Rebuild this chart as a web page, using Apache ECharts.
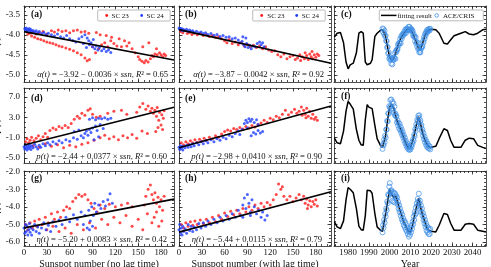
<!DOCTYPE html>
<html><head><meta charset="utf-8">
<script src="https://cdn.jsdelivr.net/npm/echarts@6/dist/echarts.min.js"></script>
<style>html,body{margin:0;padding:0;background:#fff}#c{width:491px;height:267px}</style>
</head><body><div id="c"></div>
<script>
// ---------------- DATA ----------------
const ssnTicks = [0,30,60,90,120,150,180];
const yearTicks = [1980,1990,2000,2010,2020,2030,2040];
const alphaTicks = [-5.0,-4.5,-4.0,-3.5];
const pTicks = [-5.0,-1.0,3.0,7.0];
const etaTicks = [-6.0,-5.0,-4.0,-3.0,-2.0];

// (a) alpha vs ssn (no lag)
const a23 = [[8,-3.96],[12,-3.93],[16,-3.98],[20,-3.95],[25,-3.92],[30,-3.98],[36,-3.9],[40,-3.93],[45,-3.88],[50,-3.92],[55,-3.9],[60,-3.95],[65,-3.9],[70,-3.88],[75,-3.93],[80,-3.92],[85,-3.96],[95,-3.94],[100,-4.0],[108,-4.02],[115,-4.06],[125,-4.1],[132,-4.15],[138,-4.2],
[5,-3.98],[10,-4.03],[14,-4.06],[18,-4.1],[22,-4.12],[26,-4.15],[30,-4.18],[34,-4.2],[38,-4.22],[42,-4.25],[46,-4.28],[50,-4.3],[55,-4.33],[60,-4.36],[65,-4.4],[70,-4.45],[75,-4.5],[80,-4.58],[83,-4.65],[86,-4.62],
[90,-4.3],[94,-4.45],[98,-4.35],[102,-4.25],[106,-4.2],[110,-4.3],[114,-4.15],[118,-4.22],[122,-4.28],[128,-4.3],[135,-4.28],[142,-4.35],
[146,-4.45],[150,-4.55],[152,-4.62],[155,-4.66],[158,-4.7],[160,-4.64],[163,-4.68],[166,-4.6],[168,-4.52],[170,-4.55],[172,-4.48],[175,-4.5],[178,-4.45],[180,-4.5],[182,-4.55],[184,-4.48],[186,-4.52],[164,-4.2],[156,-4.3],[174,-4.35]];
const a24 = [[1,-3.85],[2,-3.88],[3,-3.83],[4,-3.9],[5,-3.86],[6,-3.88],[7,-3.84],[8,-3.9],[9,-3.87],[10,-3.92],[12,-3.89],[14,-3.93],[16,-3.9],[18,-3.95],[20,-3.92],[23,-3.97],[26,-3.94],[29,-3.99],[32,-3.96],[36,-4.0],[40,-4.03],[44,-3.98],[48,-4.05],[52,-4.08],[56,-4.02],[60,-4.1],[64,-4.14],[68,-4.18],[72,-4.1],[76,-4.05],[80,-4.0],[83,-4.08],[85,-4.15],[86,-4.25],[88,-4.2],[90,-4.3],[91,-4.12],[93,-4.35],[95,-4.28],[97,-4.38],[99,-4.32],[102,-4.4],[105,-4.35],[108,-4.42],[111,-4.38],[114,-4.44],[78,-4.22],[82,-4.32]];
const fitLineA = [[0,-3.92],[197,-4.63]];

// (b) alpha vs ssn (with lag)
const b23 = [[2,-3.92],[5,-3.95],[8,-3.9],[11,-3.97],[14,-3.94],[17,-3.99],[20,-3.96],[24,-4.0],[28,-3.97],[32,-4.02],[36,-4.0],[40,-4.04],[44,-4.02],[48,-4.06],[52,-4.05],[56,-4.1],[60,-4.15],[63,-4.2],[66,-4.12],[70,-4.22],[74,-4.18],[78,-4.25],[82,-4.2],[86,-4.28],[90,-4.24],[94,-4.3],[98,-4.26],[102,-4.32],[106,-4.28],[110,-4.35],[114,-4.3],[118,-4.38],[122,-4.42],[126,-4.4],[130,-4.5],[134,-4.55],[138,-4.48],[142,-4.6],[146,-4.55],[150,-4.52],[153,-4.62],[156,-4.58],[159,-4.5],[162,-4.55],[165,-4.6],[168,-4.52],[170,-4.62],[172,-4.48],[174,-4.55],[176,-4.6],[178,-4.5],[180,-4.56],[182,-4.48],[184,-4.52],[160,-4.64],[166,-4.45],[175,-4.42]];
const b24 = [[0,-3.83],[1,-3.86],[2,-3.84],[3,-3.88],[4,-3.85],[5,-3.9],[6,-3.87],[8,-3.89],[10,-3.86],[12,-3.91],[14,-3.88],[16,-3.92],[18,-3.9],[20,-3.94],[23,-3.91],[26,-3.95],[29,-3.93],[32,-3.97],[35,-3.95],[38,-3.99],[42,-3.97],[46,-4.01],[50,-3.99],[54,-4.04],[58,-4.02],[62,-4.06],[66,-4.05],[70,-4.1],[74,-4.08],[78,-4.13],[80,-4.2],[83,-4.16],[85,-4.25],[87,-4.3],[89,-4.22],[91,-4.32],[93,-4.26],[95,-4.35],[97,-4.28],[100,-4.3],[103,-4.22],[106,-4.18],[108,-4.25],[110,-4.2],[112,-4.3],[84,-4.05],[88,-4.08]];
const fitLineB = [[0,-3.87],[200,-4.71]];

// (d) p vs ssn (no lag)
const d23 = [[2,-1.8],[4,-1.2],[6,-2.0],[8,-1.5],[10,-0.9],[13,-1.6],[16,-1.1],[19,-0.6],[22,-1.4],[25,-0.8],[28,-0.2],[31,-0.9],
[34,0.4],[38,0.9],[42,0.6],[46,1.2],[50,0.9],[54,1.4],[58,1.0],[62,1.8],[66,2.6],[70,3.2],[73,2.8],[76,3.8],[80,3.4],[84,4.4],[87,4.7],[90,3.6],[95,3.0],[100,3.2],[110,3.8],[118,4.2],[128,4.4],[135,3.6],
[148,4.0],[152,5.0],[156,5.7],[160,4.6],[163,5.2],[166,4.2],[168,4.8],[170,3.8],[172,4.4],[174,3.2],[175,4.9],[177,2.4],[178,4.0],[180,1.5],[181,3.5],[182,0.6],[183,2.8],[176,1.0],[173,0.2],[184,4.3],
[12,-2.6],[20,-2.9],[28,-2.2],[36,-2.7],[44,-2.4],[52,-3.0],[60,-2.5],[68,-2.8],[76,-2.3],[84,-2.0],[92,-1.5],[100,-1.0],[106,-0.5],[112,-1.2],[118,-0.8],[124,-1.4],[130,-0.6],[136,-1.0],[142,-0.4],[148,-1.1],[155,0.3],[162,-0.2]];
const d24 = [[0,-2.8],[1,-3.2],[2,-2.5],[3,-3.0],[4,-3.4],[5,-2.7],[6,-3.1],[7,-2.4],[8,-2.9],[9,-3.3],[10,-2.6],[12,-3.0],[14,-2.3],[16,-2.8],[18,-3.2],[20,-2.5],[22,-2.9],[25,-2.2],[28,-2.6],[31,-2.0],[34,-2.4],[38,-1.8],[42,-2.2],[46,-1.6],[50,-2.0],[55,-1.4],[60,-1.7],[65,-1.0],[70,-1.3],[75,-0.6],[78,-1.0],[80,-0.2],[82,0.3],[84,-0.5],[86,0.6],[88,0.0],[90,0.9],[92,-1.4],[94,1.3],[96,0.4],[98,-0.8],[100,1.6],[104,0.8],[86,2.6],[90,2.9],[94,2.5],[98,2.8],[102,2.7],[106,2.9],[110,2.6],[114,2.8],[72,0.5],[66,0.2]];
const fitLineD = [[0,-2.44],[197,4.99]];

// (e) p vs ssn (with lag)
const e23 = [[3,-2.0],[6,-2.4],[9,-1.8],[12,-2.2],[15,-1.6],[18,-2.0],[21,-1.4],[24,-1.9],[27,-1.3],[30,-1.7],[33,-1.1],[36,-1.5],[40,-0.9],[44,-1.2],[48,-0.6],[52,-0.9],[56,-0.3],[60,0.2],[64,0.5],[68,0.3],[72,0.8],[76,0.6],[80,1.0],[84,0.7],[88,1.2],[92,0.9],[96,1.4],[100,1.1],[104,1.6],[108,1.9],[112,2.4],[116,2.0],[120,2.8],[124,2.5],[128,3.2],[132,2.9],[136,3.6],[140,4.4],[144,3.5],[148,4.0],[152,4.6],[155,3.8],[158,4.2],[161,5.0],[164,4.4],[166,3.6],[168,4.8],[170,3.2],[172,4.2],[174,2.8],[176,3.6],[178,2.6],[180,3.0],[182,2.4],[167,2.9],[162,3.4]];
const e24 = [[0,-2.9],[1,-3.3],[2,-2.6],[3,-3.1],[4,-2.8],[5,-3.4],[6,-2.7],[8,-3.0],[10,-2.5],[12,-2.9],[14,-2.4],[16,-2.8],[18,-2.2],[20,-2.6],[23,-2.0],[26,-2.4],[29,-1.8],[32,-2.2],[35,-1.6],[38,-2.0],[42,-1.4],[46,-1.8],[50,-1.2],[54,-1.5],[58,-0.9],[62,-1.2],[66,-0.5],[70,-0.8],[74,-0.2],[78,0.3],[80,-0.4],[83,0.6],[86,1.8],[88,2.4],[90,2.0],[92,2.7],[94,2.2],[96,2.6],[99,2.0],[102,2.5],[104,1.6],[95,-0.6],[98,0.0],[101,-0.3],[104,0.4],[107,-0.1],[110,0.2],[90,0.9]];
const fitLineE = [[0,-2.98],[200,5.22]];

// (g) eta vs ssn (no lag)
const g23 = [[2,-5.0],[5,-5.3],[8,-4.9],[11,-5.2],[14,-4.8],[17,-5.1],[20,-4.7],[24,-5.0],[28,-4.6],[32,-4.9],[36,-4.4],[40,-4.7],[44,-4.3],[48,-4.6],[52,-4.2],[56,-4.0],[60,-4.1],[64,-3.7],[68,-3.5],[72,-3.3],[76,-3.4],[80,-3.3],[84,-3.6],[88,-3.8],[92,-4.1],[96,-4.3],[100,-3.9],[106,-4.1],[112,-3.85],[120,-4.0],[128,-3.9],[136,-3.8],[142,-4.0],
[30,-5.3],[38,-5.1],[46,-5.4],[54,-5.2],[62,-5.5],[70,-5.0],[78,-5.3],[86,-4.9],[94,-5.2],[102,-4.7],[110,-5.0],[118,-4.6],[126,-4.9],[134,-4.5],[142,-5.1],[150,-4.7],[156,-5.3],[162,-4.4],[168,-4.9],[174,-4.3],
[160,-3.4],[163,-3.0],[166,-2.75],[168,-3.3],[170,-3.6],[172,-3.2],[174,-3.8],[176,-3.45],[178,-4.0],[180,-3.6],[182,-4.2],[184,-3.4],[171,-4.6],[177,-5.1],[181,-4.8],[158,-3.9]];
const g24 = [[0,-5.2],[1,-5.5],[2,-5.0],[3,-5.4],[4,-5.1],[5,-5.6],[6,-5.3],[7,-4.95],[8,-5.45],[9,-5.2],[10,-5.6],[12,-5.3],[14,-5.0],[16,-5.4],[18,-5.15],[20,-5.5],[23,-5.2],[26,-4.9],[29,-5.3],[32,-5.05],[35,-5.4],[38,-4.85],[42,-5.1],[46,-4.75],[50,-5.0],[55,-4.6],[60,-4.85],[65,-4.45],[70,-4.7],[75,-4.3],[78,-5.0],[80,-4.5],[83,-5.2],[85,-4.2],[87,-4.8],[89,-4.0],[91,-4.5],[93,-3.8],[95,-4.3],[98,-3.9],[101,-4.1],[104,-3.7],[107,-3.95],[110,-3.6],[113,-3.25],[116,-3.8],[86,-5.3],[90,-5.1]];
const fitLineG = [[0,-5.20],[197,-3.56]];

// (h) eta vs ssn (with lag)
const h23 = [[3,-5.0],[6,-5.2],[9,-4.9],[12,-5.1],[15,-4.85],[18,-5.05],[21,-4.8],[24,-5.0],[28,-4.75],[32,-4.95],[36,-4.7],[40,-4.9],[44,-4.6],[48,-4.85],[52,-4.5],[56,-4.7],[60,-4.35],[64,-4.55],[68,-4.25],[72,-4.45],[76,-4.2],[80,-4.4],[84,-4.1],[88,-4.3],[92,-4.0],[96,-4.2],[100,-3.9],[104,-4.1],[108,-3.8],[112,-4.0],[116,-3.75],[120,-3.9],[124,-3.6],[128,-3.3],[131,-2.7],[134,-3.0],[136,-2.85],[138,-3.4],[142,-3.6],[146,-3.4],[150,-3.7],[154,-3.5],[158,-3.3],[161,-3.6],[164,-3.4],[166,-3.8],[168,-3.55],[170,-3.9],[172,-3.65],[174,-4.0],[176,-3.7],[178,-3.85],[180,-3.6],[182,-3.95],[169,-4.1]];
const h24 = [[0,-5.3],[1,-5.0],[2,-5.5],[3,-5.2],[4,-5.6],[5,-5.1],[6,-5.4],[8,-5.25],[10,-5.5],[12,-5.0],[14,-5.35],[16,-5.1],[18,-5.4],[20,-5.15],[23,-5.3],[26,-4.95],[29,-5.2],[32,-4.9],[35,-5.1],[38,-4.8],[42,-5.0],[46,-4.7],[50,-4.9],[54,-4.6],[58,-4.8],[62,-4.5],[66,-4.7],[70,-4.4],[74,-4.6],[78,-4.2],[81,-4.5],[84,-3.9],[86,-3.5],[88,-4.1],[90,-3.3],[92,-3.8],[94,-4.3],[96,-3.6],[99,-4.0],[102,-4.4],[105,-4.2],[108,-4.6],[110,-4.3],[113,-4.75],[116,-4.5],[84,-4.6],[94,-4.5]];
const fitLineH = [[0,-5.44],[200,-3.14]];

// time series (c), (f), (i)
const aceYears = [1996.6,1996.85,1997.1,1997.35,1997.6,1997.85,1998.1,1998.35,1998.6,1998.85,
1999.1,1999.35,1999.6,1999.85,2000.1,2000.35,2000.6,2000.85,2001.1,2001.35,
2001.6,2001.85,2002.1,2002.35,2002.6,2002.85,2003.1,2003.35,2003.6,2003.85,
2004.1,2004.35,2004.6,2004.85,2005.1,2005.35,2005.6,2005.85,2006.1,2006.35,
2006.6,2006.85,2007.1,2007.35,2007.6,2007.85,2008.1,2008.35,2008.6,2008.85,
2009.1,2009.35,2009.6,2009.85,2010.1,2010.35,2010.6,2010.85,2011.1,2011.35,
2011.6,2011.85,2012.1,2012.35,2012.6,2012.85,2013.1,2013.35,2013.6,2013.85,
2014.1,2014.35,2014.6,2014.85,2015.1,2015.35,2015.6,2015.85,2016.1,2016.35,
2016.6,2016.85,2017.1,2017.35,2017.6,2017.85,2018.1,2018.35,2018.6,2018.85,
2019.1,2019.35,2019.6];
const aceAlpha = [-3.84,-3.93,-3.86,-3.98,-3.90,-4.04,-4.02,-4.15,-4.16,-4.32,
-4.30,-4.47,-4.44,-4.60,-4.55,-4.63,-4.60,-4.72,-4.58,-4.74,
-4.60,-4.63,-4.57,-4.60,-4.45,-4.60,-4.40,-4.43,-4.36,-4.36,
-4.24,-4.27,-4.20,-4.21,-4.10,-4.21,-4.04,-4.10,-4.00,-4.03,
-3.97,-3.99,-3.92,-3.96,-3.87,-3.96,-3.85,-3.89,-3.86,-3.87,
-3.80,-3.89,-3.80,-3.87,-3.84,-3.88,-3.86,-3.92,-3.90,-4.02,
-3.98,-4.05,-4.04,-4.16,-4.06,-4.22,-4.18,-4.30,-4.20,-4.36,
-4.32,-4.44,-4.40,-4.44,-4.32,-4.34,-4.29,-4.29,-4.16,-4.19,
-4.06,-4.10,-3.98,-4.02,-3.93,-3.96,-3.88,-3.92,-3.87,-3.90,
-3.85,-3.89,-3.85];
const aceP = [-3.2,-2.3,-2.5,-1.4,-1.9,-0.6,-1.0,0.6,0.6,2.3,
2.2,3.8,3.7,5.2,4.9,6.4,5.2,6.5,4.8,6.0,
4.5,5.7,3.9,5.1,3.4,3.7,3.2,3.2,2.0,2.4,
1.4,1.9,0.8,1.7,0.5,1.1,0.0,0.6,-0.5,0.1,
-1.0,-0.5,-1.6,-1.0,-2.1,-1.6,-2.6,-2.1,-3.0,-2.6,
-3.3,-2.9,-3.4,-3.0,-3.3,-2.5,-2.8,-1.9,-2.2,-1.3,
-1.6,-0.4,-0.7,0.7,0.3,1.6,1.2,2.5,2.2,3.3,
2.9,3.4,2.1,2.4,1.2,1.5,0.3,0.6,-0.6,-0.1,
-1.3,-0.8,-1.9,-1.4,-2.4,-1.8,-2.8,-2.2,-3.0,-2.6,
-3.1,-2.7,-3.3];
const aceEta = [-5.45,-5.05,-5.20,-4.75,-4.90,-4.40,-4.55,-4.10,-4.20,-3.70,
-3.80,-3.30,-3.35,-2.85,-2.65,-3.20,-3.10,-3.05,-3.25,-3.65,
-3.15,-3.70,-3.20,-3.75,-3.25,-3.45,-3.35,-3.60,-3.45,-3.85,
-3.70,-4.10,-3.90,-4.30,-4.10,-4.50,-4.30,-4.70,-4.45,-4.85,
-4.65,-5.05,-4.80,-5.15,-4.90,-5.30,-5.05,-5.40,-5.20,-5.55,
-5.35,-5.70,-5.40,-5.60,-5.20,-5.45,-5.05,-5.25,-4.85,-5.00,
-4.55,-4.75,-4.30,-4.45,-4.05,-4.35,-3.80,-3.95,-3.55,-3.70,
-3.25,-3.80,-3.65,-4.10,-3.90,-4.30,-4.10,-4.50,-4.35,-4.75,
-4.55,-4.95,-4.75,-5.15,-4.95,-5.35,-5.10,-5.45,-5.20,-5.55,
-5.30,-5.55,-5.25];

const fitYears = [1973.4,1974.7,1976.3,1977.8,1979.0,1980.0,1981.0,1982.5,1984.0,1985.2,
1986.3,1987.3,1988.3,1989.2,1990.0,1990.8,1991.6,1992.9,1994.0,1995.6,
1996.6,1998.0,1999.0,2000.0,2001.0,2002.0,2003.0,2004.0,2005.0,2006.0,
2007.0,2008.0,2009.0,2010.0,2011.0,2012.0,2013.0,2014.0,2015.0,2016.0,
2017.0,2018.0,2019.0,2020.0,2022.3,2023.9,2026.2,2027.9,2029.5,2031.1,
2034.4,2036.5,2038.4,2040.5,2042.5,2044.9,2046.5];
const fitAlpha = [-4.06,-3.96,-3.94,-4.20,-4.68,-4.85,-4.75,-4.71,-4.45,-3.96,
-3.92,-3.96,-4.68,-4.75,-4.72,-4.71,-4.62,-4.04,-3.96,-3.89,
-3.87,-4.02,-4.30,-4.56,-4.65,-4.60,-4.45,-4.28,-4.14,-4.03,
-3.95,-3.89,-3.85,-3.86,-3.93,-4.07,-4.20,-4.35,-4.36,-4.20,
-4.03,-3.92,-3.88,-3.86,-3.875,-3.96,-4.21,-4.23,-4.125,-4.025,
-3.96,-3.92,-3.98,-4.00,-3.96,-3.875,-3.86];
const fitP = [-1.1,-2.0,-2.2,0.3,4.2,6.1,5.6,4.6,0.6,-1.5,
-2.4,-2.5,2.5,5.5,5.0,5.2,4.7,1.4,-1.2,-2.5,
-2.9,-0.8,2.3,5.0,5.6,4.8,3.2,1.9,0.9,-0.1,
-1.2,-2.2,-3.0,-3.0,-1.9,-0.2,1.6,3.1,1.6,-0.2,
-1.4,-2.3,-2.8,-2.9,-2.7,-1.2,0.75,0.4,-1.55,-2.9,
-2.9,-1.5,-1.1,-1.2,-2.5,-2.9,-3.1];
const fitEta = [-4.86,-5.14,-5.24,-4.8,-3.6,-2.9,-3.0,-3.2,-4.1,-5.1,
-5.3,-5.33,-4.5,-3.05,-3.14,-3.09,-3.24,-4.38,-5.14,-5.33,
-5.39,-4.45,-3.75,-3.0,-3.3,-3.45,-3.4,-3.8,-4.2,-4.55,
-4.9,-5.15,-5.4,-5.45,-5.1,-4.5,-4.0,-3.5,-4.05,-4.5,
-4.85,-5.2,-5.35,-5.39,-5.43,-5.05,-4.38,-4.44,-4.95,-5.33,
-5.33,-4.99,-4.95,-4.99,-5.33,-5.39,-5.43];

const panelLabels = ['(a)','(b)','(c)','(d)','(e)','(f)','(g)','(h)','(i)'];
const equations = [
 '{i|α(t)} = −3.92 − 0.0036 × {i|ssn}, {i|R}² = 0.65',
 '{i|α(t)} = −3.87 − 0.0042 × {i|ssn}, {i|R}² = 0.92',
 '{i|p(t)} = −2.44 + 0.0377 × {i|ssn}, {i|R}² = 0.60',
 '{i|p(t)} = −2.98 + 0.0410 × {i|ssn}, {i|R}² = 0.90',
 '{i|η(t)} = −5.20 + 0.0083 × {i|ssn}, {i|R}² = 0.42',
 '{i|η(t)} = −5.44 + 0.0115 × {i|ssn}, {i|R}² = 0.79'
];

// ---------------- LAYOUT ----------------
const FONT = "'Liberation Serif','DejaVu Serif',serif";
const TXT = '#111';
const RED = '#ff1a1a', BLUE = '#1f3dff', LBLUE = '#3d8ee6';
const cols = [{left:24,width:150},{left:179,width:152},{left:334,width:152}];
const rows = [{top:6,height:76},{top:88,height:75},{top:171,height:75}];
const xRange = [[0,197],[0,200],[1973.2,2046.5]];
const yRange = [[-5.18,-3.28],[-5.97,8.75],[-6.23,-1.96]];
function steps(a,b,s){const r=[];for(let v=a;v<=b+1e-9;v+=s)r.push(Math.round(v*1000)/1000);return r;}
const xMajor = [ssnTicks, ssnTicks, yearTicks];
const xMinor = [steps(0,195,7.5), steps(0,199,7.5), steps(1974,2046,2)];
const yMajor = [alphaTicks, pTicks, etaTicks];
const yMinor = [steps(-5.1,-3.3,0.1), steps(-5,8,1), steps(-6.2,-2.0,0.2)];
const xNames = ['Sunspot number (no lag time)','Sunspot number (with lag time)','Year'];
const yNames = ['α(t)','p(t)','η(t)'];

const grids=[], xAxes=[], yAxes=[], mainX=[], mainY=[];
const ls = {color:'#222',width:0.8};
function axisBase(gi,min,max){
  return {type:'value',gridIndex:gi,min,max,splitLine:{show:false},
    axisLine:{show:false,onZero:false},axisLabel:{show:false},axisTick:{show:false}};
}
for(let r=0;r<3;r++)for(let c=0;c<3;c++){
  const gi=r*3+c;
  grids.push({left:cols[c].left,top:rows[r].top,width:cols[c].width,height:rows[r].height,containLabel:false,outerBoundsMode:'none'});
  const [x0,x1]=xRange[c], [y0,y1]=yRange[r];
  mainX[gi]=xAxes.length;
  xAxes.push(Object.assign(axisBase(gi,x0,x1),{position:'bottom',
    axisLine:{show:true,onZero:false,lineStyle:ls},
    axisTick:{show:true,inside:true,length:3.5,lineStyle:ls,customValues:xMajor[c]},
    axisLabel:{show:r===2,customValues:xMajor[c],fontFamily:FONT,fontSize:8.8,color:TXT,margin:2.5,formatter:v=>String(Math.round(v))},
    name:r===2?xNames[c]:'',nameLocation:'middle',nameGap:13.2,nameTextStyle:{fontFamily:FONT,fontSize:10,color:TXT}}));
  xAxes.push(Object.assign(axisBase(gi,x0,x1),{position:'bottom',axisTick:{show:true,inside:true,length:2,lineStyle:ls,customValues:xMinor[c]}}));
  xAxes.push(Object.assign(axisBase(gi,x0,x1),{position:'top',axisLine:{show:true,onZero:false,lineStyle:ls},axisTick:{show:true,inside:true,length:3.5,lineStyle:ls,customValues:xMajor[c]}}));
  xAxes.push(Object.assign(axisBase(gi,x0,x1),{position:'top',axisTick:{show:true,inside:true,length:2,lineStyle:ls,customValues:xMinor[c]}}));
  mainY[gi]=yAxes.length;
  yAxes.push(Object.assign(axisBase(gi,y0,y1),{position:'left',
    axisLine:{show:true,onZero:false,lineStyle:ls},
    axisTick:{show:true,inside:true,length:3.5,lineStyle:ls,customValues:yMajor[r]},
    axisLabel:{show:c===0,customValues:yMajor[r],fontFamily:FONT,fontSize:9,color:TXT,margin:4,formatter:v=>v.toFixed(1)},
    name:c===0?yNames[r]:'',nameLocation:'middle',nameGap:15,nameRotate:90,nameTextStyle:{fontFamily:FONT,fontSize:10.5,fontStyle:'italic',color:TXT}}));
  yAxes.push(Object.assign(axisBase(gi,y0,y1),{position:'left',axisTick:{show:true,inside:true,length:2,lineStyle:ls,customValues:yMinor[r]}}));
  yAxes.push(Object.assign(axisBase(gi,y0,y1),{position:'right',axisLine:{show:true,onZero:false,lineStyle:ls},axisTick:{show:true,inside:true,length:3.5,lineStyle:ls,customValues:yMajor[r]}}));
  yAxes.push(Object.assign(axisBase(gi,y0,y1),{position:'right',axisTick:{show:true,inside:true,length:2,lineStyle:ls,customValues:yMinor[r]}}));
}

const series=[];
function scat(gi,name,data,color){
  series.push({type:'scatter',name,data,xAxisIndex:mainX[gi],yAxisIndex:mainY[gi],symbol:'circle',symbolSize:3,
    itemStyle:{color},silent:true,animation:false,z:2});
}
function fitl(gi,data){
  series.push({type:'line',data,xAxisIndex:mainX[gi],yAxisIndex:mainY[gi],showSymbol:false,symbol:'none',
    lineStyle:{color:'#000',width:1.6},silent:true,animation:false,z:4});
}
const scatterSets=[[0,a23,a24,fitLineA],[1,b23,b24,fitLineB],[3,d23,d24,fitLineD],[4,e23,e24,fitLineE],[6,g23,g24,fitLineG],[7,h23,h24,fitLineH]];
scatterSets.forEach(([gi,r,b,f])=>{scat(gi,'SC 23',r,RED);scat(gi,'SC 24',b,BLUE);fitl(gi,f);});
const zip=(xs,ys)=>xs.map((x,i)=>[x,ys[i]]);
[[2,fitAlpha,aceAlpha],[5,fitP,aceP],[8,fitEta,aceEta]].forEach(([gi,fv,av])=>{
  series.push({type:'line',name:'fitting result',data:zip(fitYears,fv),xAxisIndex:mainX[gi],yAxisIndex:mainY[gi],
    showSymbol:false,symbol:'none',lineStyle:{color:'#000',width:1.5},silent:true,animation:false,z:2});
  series.push({type:'scatter',name:'ACE/CRIS',data:zip(aceYears,av),xAxisIndex:mainX[gi],yAxisIndex:mainY[gi],
    symbol:'circle',symbolSize:5,itemStyle:{color:'rgba(0,0,0,0)',borderColor:LBLUE,borderWidth:0.9},silent:true,animation:false,z:3});
});

// ---------------- GRAPHIC (labels, equations, legends) ----------------
const graphic=[];
const labelPos=[[31,15],[185,15],[341,15],[31,99],[185,99],[341,97],[31,179],[185,179],[341,179]];
panelLabels.forEach((t,i)=>graphic.push({type:'text',x:labelPos[i][0],y:labelPos[i][1],z:10,
  style:{text:t,font:`bold 9.5px ${FONT}`,fill:TXT,textAlign:'left',textVerticalAlign:'middle'}}));
const eqPos=[[168,74.5],[324,74.5],[167,157],[322,157],[167,240],[322,240]];
equations.forEach((t,i)=>graphic.push({type:'text',x:eqPos[i][0],y:eqPos[i][1],z:10,
  style:{text:t,fontFamily:FONT,fontSize:8.6,fill:TXT,textAlign:'right',textVerticalAlign:'middle',
    rich:{i:{fontFamily:FONT,fontSize:8.6,fontStyle:'italic',fill:TXT}}}}));
function legendBox(x,y,w,h){graphic.push({type:'rect',shape:{x,y,width:w,height:h,r:1},z:9,style:{fill:'#fff',stroke:'#aaa',lineWidth:0.8}});}
function ltext(x,y,t){graphic.push({type:'text',x,y,z:10,style:{text:t,fontFamily:FONT,fontSize:7,fill:TXT,textAlign:'left',textVerticalAlign:'middle'}});}
function ldot(x,y,col){graphic.push({type:'circle',shape:{cx:x,cy:y,r:1.4},z:10,style:{fill:col}});}
[[97.7,106.7,111.5,141.7,146.5],[252.7,261.7,267.3,296.7,301.7]].forEach(([bx,r1,t1,b1,t2])=>{
  legendBox(bx,10,72.5,11); ldot(r1,15.5,RED); ltext(t1,15.8,'SC 23'); ldot(b1,15.5,BLUE); ltext(t2,15.8,'SC 24');
});
legendBox(379.3,10,104,10.8);
graphic.push({type:'line',shape:{x1:381,y1:15.4,x2:396.5,y2:15.4},z:10,style:{stroke:'#000',lineWidth:1.5}});
ltext(397.5,15.7,'fitting result');
graphic.push({type:'circle',shape:{cx:436.7,cy:15.4,r:1.8},z:10,style:{fill:'none',stroke:LBLUE,lineWidth:0.8}});
ltext(443,15.7,'ACE/CRIS');

const chart = echarts.init(document.getElementById('c'), null, {renderer:'canvas'});
chart.setOption({animation:false,backgroundColor:'#fff',grid:grids,xAxis:xAxes,yAxis:yAxes,series,graphic});
</script></body></html>
